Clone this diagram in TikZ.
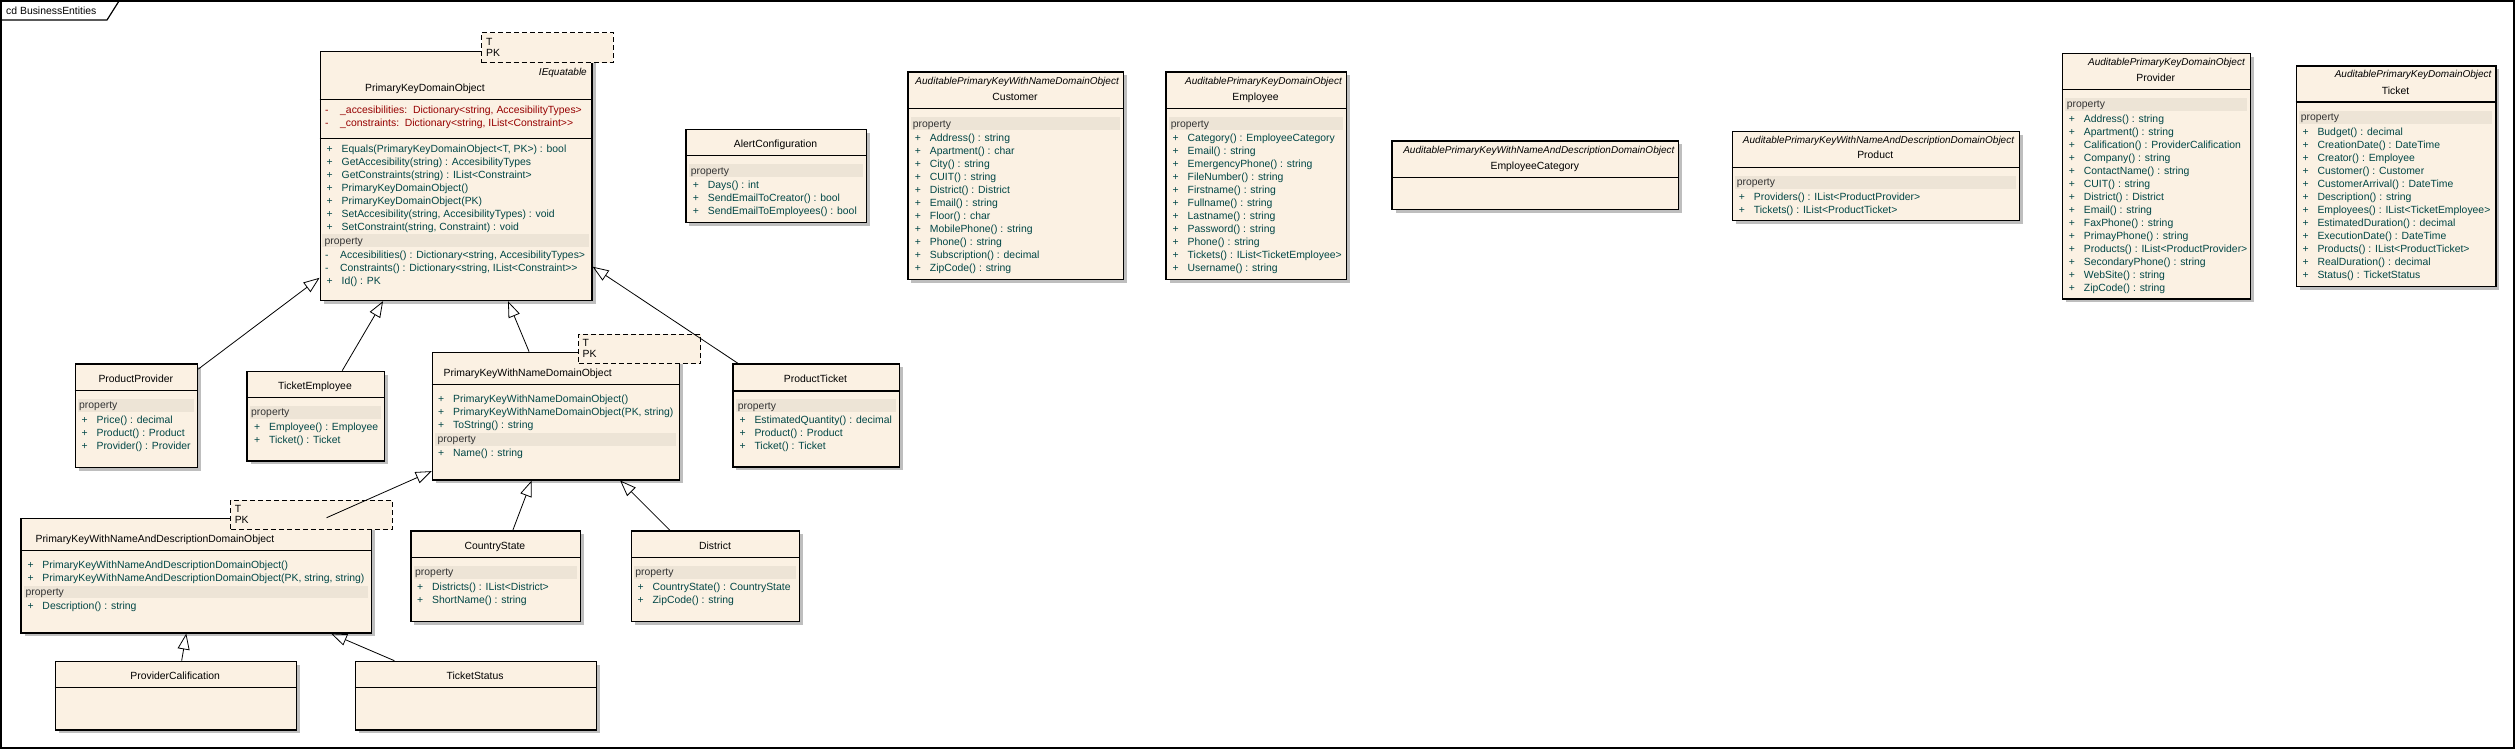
\documentclass[tikz,border=0pt]{standalone}
\usepackage{fontspec}
\setmainfont{Liberation Sans}
\usetikzlibrary{positioning}
\usetikzlibrary{arrows.meta}
\usetikzlibrary{shadows}

\definecolor{boxfill}{RGB}{251,241,227}
\definecolor{bandfill}{RGB}{237,228,214}
\definecolor{shadowgray}{RGB}{190,190,190}
\definecolor{memtext}{RGB}{0,70,70}
\definecolor{privtext}{RGB}{150,0,0}

\newcommand{\memfont}{\fontsize{10.4}{13}\selectfont}
\newcommand{\pub}{\makebox[15pt][l]{+}}
\newcommand{\priv}{\makebox[15pt][l]{-}}

\tikzset{classbox/.style={rectangle,draw=black,fill=boxfill,line width=1.2pt,
inner sep=0pt,anchor=north west,
drop shadow={shadow xshift=3.5pt,shadow yshift=-3.5pt,fill=shadowgray,opacity=1}}}
\tikzset{tmplbox/.style={rectangle,draw=black,fill=boxfill,line width=1pt,
inner sep=0pt,anchor=north west,dash pattern=on 5pt off 3pt}}
\tikzset{sepline/.style={line width=1.2pt}}
\tikzset{band/.style={fill=bandfill}}
\tikzset{member/.style={anchor=base west,inner sep=0pt,font=\memfont,text=memtext}}
\tikzset{privmember/.style={member,text=privtext}}
\tikzset{bandlabel/.style={anchor=base west,inner sep=0pt,font=\memfont,text=black!80}}
\tikzset{classname/.style={anchor=base,inner sep=0pt,font=\memfont,text=black}}
\tikzset{stereotype/.style={anchor=base east,inner sep=0pt,font=\fontsize{10}{13}\selectfont\itshape,text=black}}
\tikzset{generalize/.style={line width=0.8pt,-{Triangle[open,length=16pt,width=12pt]}}}

\begin{document}
\begin{tikzpicture}[x=1pt,y=-1pt]
\useasboundingbox (0,0) rectangle (2516,750);
\fill[white] (0,0) rectangle (2516,750);

% diagram frame
\draw[line width=1.3pt] (1,1) rectangle (2514,748);
\draw[line width=1.2pt] (1,20) -- (107,20) -- (119,1);
\node[anchor=base west,inner sep=0pt,font=\memfont] (framename) at (6,14.5) {cd BusinessEntities};

% PrimaryKeyDomainObject
\node[classbox,minimum width=271.8pt,minimum height=249.3pt] (pkdo) at (319.6,50.7) {};
\node[tmplbox,minimum width=131.7pt,minimum height=30pt] (pkdoparams) at (481,32) {};
\node[member,text=black] (pkdoT) at (486,45.4) {T};
\node[member,text=black] (pkdoPK) at (486,56.4) {PK};
\node[stereotype] (pkdoiface) at (587,75.4) {IEquatable};
\node[classname,anchor=base west] (pkdoname) at (365,91.4) {PrimaryKeyDomainObject};
\draw[sepline] (pkdo.west |- 0,99.3) -- (pkdo.east |- 0,99.3);
\foreach \t [count=\i from 0] in {{\_accesibilities:\ \ Dictionary<string, AccesibilityTypes>},{\_constraints:\ \ Dictionary<string, IList<Constraint>{}>}}
  \node[privmember] (pkdoattr\i) at (325,113.4+13*\i) {\priv\t};
\draw[sepline] (pkdo.west |- 0,138.3) -- (pkdo.east |- 0,138.3);
\foreach \t [count=\i from 0] in {{Equals(PrimaryKeyDomainObject<T, PK>) : bool},GetAccesibility(string) : AccesibilityTypes,GetConstraints(string) : IList<Constraint>,PrimaryKeyDomainObject(),PrimaryKeyDomainObject(PK),{SetAccesibility(string, AccesibilityTypes) : void},{SetConstraint(string, Constraint) : void}}
  \node[member] (pkdoop\i) at (326.5,152.4+13*\i) {\pub\t};
\fill[band] (322,234) rectangle (589,247);
\node[bandlabel] (pkdoband) at (324.5,244.1) {property};
\node[member] (pkdoprop0) at (325,258.4) {\priv Accesibilities() : Dictionary<string, AccesibilityTypes>};
\node[member] (pkdoprop1) at (325,271.4) {\priv Constraints() : Dictionary<string, IList<Constraint>{}>};
\node[member] (pkdoprop2) at (326.5,284.4) {\pub Id() : PK};

% ProductProvider
\node[classbox,minimum width=122.5pt,minimum height=103.4pt] (pprov) at (74.5,363.3) {};
\node[classname] (pprovname) at (135.8,382.1) {ProductProvider};
\draw[sepline] (pprov.west |- 0,390.7) -- (pprov.east |- 0,390.7);
\fill[band] (78,399) rectangle (194,412);
\node[bandlabel] (pprovband) at (79,408.9) {property};
\foreach \t [count=\i from 0] in {Price() : decimal,Product() : Product,Provider() : Provider}
  \node[member] (pprovp\i) at (81.4,423.4+13*\i) {\pub\t};

% TicketEmployee
\node[classbox,minimum width=137.1pt,minimum height=89.6pt] (tempe) at (246.4,370.7) {};
\node[classname] (tempename) at (315,389.4) {TicketEmployee};
\draw[sepline] (tempe.west |- 0,397.3) -- (tempe.east |- 0,397.3);
\fill[band] (249.5,406) rectangle (380.5,418.7);
\node[bandlabel] (tempeband) at (251,415.8) {property};
\foreach \t [count=\i from 0] in {Employee() : Employee,Ticket() : Ticket}
  \node[member] (tempep\i) at (254,430.4+13*\i) {\pub\t};

% PrimaryKeyWithNameDomainObject
\node[classbox,minimum width=247.3pt,minimum height=127.6pt] (pkwndo) at (431.7,351.7) {};
\node[tmplbox,minimum width=122pt,minimum height=29.3pt] (pkwndoparams) at (578.3,333.7) {};
\node[member,text=black] (pkwndoT) at (582.5,346.1) {T};
\node[member,text=black] (pkwndoPK) at (582.5,357.7) {PK};
\node[classname,anchor=base west] (pkwndoname) at (443.5,376.1) {PrimaryKeyWithNameDomainObject};
\draw[sepline] (pkwndo.west |- 0,384.3) -- (pkwndo.east |- 0,384.3);
\foreach \t [count=\i from 0] in {PrimaryKeyWithNameDomainObject(),{PrimaryKeyWithNameDomainObject(PK, string)},ToString() : string}
  \node[member] (pkwndoop\i) at (438,402.1+13*\i) {\pub\t};
\fill[band] (435,433) rectangle (676,445.5);
\node[bandlabel] (pkwndoband) at (437.5,442.4) {property};
\node[member] (pkwndoprop0) at (438,456.4) {\pub Name() : string};

% ProductTicket
\node[classbox,minimum width=166.4pt,minimum height=103pt] (ptick) at (732.3,363.3) {};
\node[classname] (ptickname) at (815.5,382.1) {ProductTicket};
\draw[sepline] (ptick.west |- 0,391) -- (ptick.east |- 0,391);
\fill[band] (735.5,399) rectangle (895.5,412);
\node[bandlabel] (ptickband) at (737.7,409) {property};
\foreach \t [count=\i from 0] in {EstimatedQuantity() : decimal,Product() : Product,Ticket() : Ticket}
  \node[member] (ptickp\i) at (739.3,423.1+13*\i) {\pub\t};

% PrimaryKeyWithNameAndDescriptionDomainObject
\node[classbox,minimum width=350.2pt,minimum height=114.6pt] (pkwnaddo) at (20.4,517.7) {};
\node[tmplbox,minimum width=161.2pt,minimum height=29.6pt] (pkwnaddoparams) at (230.3,499.7) {};
\node[member,text=black] (pkwnaddoT) at (234.6,512.1) {T};
\node[member,text=black] (pkwnaddoPK) at (234.6,523.7) {PK};
\node[classname,anchor=base west] (pkwnaddoname) at (35.4,542.1) {PrimaryKeyWithNameAndDescriptionDomainObject};
\draw[sepline] (pkwnaddo.west |- 0,550.3) -- (pkwnaddo.east |- 0,550.3);
\foreach \t [count=\i from 0] in {PrimaryKeyWithNameAndDescriptionDomainObject(),{PrimaryKeyWithNameAndDescriptionDomainObject(PK, string, string)}}
  \node[member] (pkwnaddoop\i) at (27.3,568.4+13*\i) {\pub\t};
\fill[band] (23.5,585.7) rectangle (367.5,597.7);
\node[bandlabel] (pkwnaddoband) at (25.5,595.1) {property};
\node[member] (pkwnaddoprop0) at (27.3,609.4) {\pub Description() : string};

% CountryState
\node[classbox,minimum width=169.2pt,minimum height=90.4pt] (cstate) at (410.3,530.3) {};
\node[classname] (cstatename) at (494.9,549.1) {CountryState};
\draw[sepline] (cstate.west |- 0,557.7) -- (cstate.east |- 0,557.7);
\fill[band] (413.5,566.3) rectangle (576.5,578.7);
\node[bandlabel] (cstateband) at (415,575.9) {property};
\foreach \t [count=\i from 0] in {Districts() : IList<District>,ShortName() : string}
  \node[member] (cstatep\i) at (417,590.1+13*\i) {\pub\t};

% District
\node[classbox,minimum width=168pt,minimum height=90.4pt] (district) at (631,530.3) {};
\node[classname] (districtname) at (715,549.1) {District};
\draw[sepline] (district.west |- 0,557.7) -- (district.east |- 0,557.7);
\fill[band] (634,566.3) rectangle (796,578.7);
\node[bandlabel] (districtband) at (635.2,575.9) {property};
\foreach \t [count=\i from 0] in {CountryState() : CountryState,ZipCode() : string}
  \node[member] (districtp\i) at (637.4,590.1+13*\i) {\pub\t};

% ProviderCalification
\node[classbox,minimum width=241.1pt,minimum height=68.6pt] (provcal) at (54.6,660.7) {};
\node[classname] (provcalname) at (175.2,679.1) {ProviderCalification};
\draw[sepline] (provcal.west |- 0,687.3) -- (provcal.east |- 0,687.3);

% TicketStatus
\node[classbox,minimum width=241pt,minimum height=68.6pt] (tstatus) at (354.6,660.7) {};
\node[classname] (tstatusname) at (475.1,679.1) {TicketStatus};
\draw[sepline] (tstatus.west |- 0,687.3) -- (tstatus.east |- 0,687.3);

% AlertConfiguration
\node[classbox,minimum width=180.4pt,minimum height=93pt] (alertcfg) at (685.3,128.7) {};
\node[classname] (alertcfgname) at (775.5,147.1) {AlertConfiguration};
\draw[sepline] (alertcfg.west |- 0,155.7) -- (alertcfg.east |- 0,155.7);
\fill[band] (688.5,164.3) rectangle (862.5,177);
\node[bandlabel] (alertcfgband) at (690.7,174.1) {property};
\foreach \t [count=\i from 0] in {Days() : int,SendEmailToCreator() : bool,SendEmailToEmployees() : bool}
  \node[member] (alertcfgp\i) at (692.7,188.1+13*\i) {\pub\t};

% Customer
\node[classbox,minimum width=215.4pt,minimum height=207.4pt] (customer) at (907.3,71.3) {};
\node[stereotype] (customerbase) at (1119,84.1) {AuditablePrimaryKeyWithNameDomainObject};
\node[classname] (customername) at (1015,100.1) {Customer};
\draw[sepline] (customer.west |- 0,108.7) -- (customer.east |- 0,108.7);
\fill[band] (910.5,117.3) rectangle (1119.5,130);
\node[bandlabel] (customerband) at (912.7,127.1) {property};
\foreach \t [count=\i from 0] in {Address() : string,Apartment() : char,City() : string,CUIT() : string,District() : District,Email() : string,Floor() : char,MobilePhone() : string,Phone() : string,Subscription() : decimal,ZipCode() : string}
  \node[member] (customerp\i) at (914.7,141.1+13*\i) {\pub\t};

% Employee
\node[classbox,minimum width=180.3pt,minimum height=207.4pt] (employee) at (1165.4,71.3) {};
\node[stereotype] (employeebase) at (1342,84.1) {AuditablePrimaryKeyDomainObject};
\node[classname] (employeename) at (1255.5,100.1) {Employee};
\draw[sepline] (employee.west |- 0,108.7) -- (employee.east |- 0,108.7);
\fill[band] (1168.5,117.3) rectangle (1342.5,130);
\node[bandlabel] (employeeband) at (1170.7,127.1) {property};
\foreach \t [count=\i from 0] in {Category() : EmployeeCategory,Email() : string,EmergencyPhone() : string,FileNumber() : string,Firstname() : string,Fullname() : string,Lastname() : string,Password() : string,Phone() : string,Tickets() : IList<TicketEmployee>,Username() : string}
  \node[member] (employeep\i) at (1172.5,141.1+13*\i) {\pub\t};

% EmployeeCategory
\node[classbox,minimum width=286.8pt,minimum height=68.7pt] (empcat) at (1391.4,140.3) {};
\node[stereotype] (empcatbase) at (1674.6,153.1) {AuditablePrimaryKeyWithNameAndDescriptionDomainObject};
\node[classname] (empcatname) at (1534.8,169.4) {EmployeeCategory};
\draw[sepline] (empcat.west |- 0,177.3) -- (empcat.east |- 0,177.3);

% Product
\node[classbox,minimum width=287pt,minimum height=89.3pt] (product) at (1731.7,130.7) {};
\node[stereotype] (productbase) at (2014.3,143.1) {AuditablePrimaryKeyWithNameAndDescriptionDomainObject};
\node[classname] (productname) at (1875.2,158.7) {Product};
\draw[sepline] (product.west |- 0,167.3) -- (product.east |- 0,167.3);
\fill[band] (1735,176) rectangle (2015.5,188.7);
\node[bandlabel] (productband) at (1736.7,185.7) {property};
\foreach \t [count=\i from 0] in {Providers() : IList<ProductProvider>,Tickets() : IList<ProductTicket>}
  \node[member] (productp\i) at (1738.7,200.1+13*\i) {\pub\t};

% Provider
\node[classbox,minimum width=188pt,minimum height=245.6pt] (provider) at (2061.7,52.7) {};
\node[stereotype] (providerbase) at (2245,65.4) {AuditablePrimaryKeyDomainObject};
\node[classname] (providername) at (2155.7,81.1) {Provider};
\draw[sepline] (provider.west |- 0,89.3) -- (provider.east |- 0,89.3);
\fill[band] (2065,98.3) rectangle (2246.5,110.7);
\node[bandlabel] (providerband) at (2066.7,107.9) {property};
\foreach \t [count=\i from 0] in {Address() : string,Apartment() : string,Calification() : ProviderCalification,Company() : string,ContactName() : string,CUIT() : string,District() : District,Email() : string,FaxPhone() : string,PrimayPhone() : string,Products() : IList<ProductProvider>,SecondaryPhone() : string,WebSite() : string,ZipCode() : string}
  \node[member] (providerp\i) at (2068.7,122.4+13*\i) {\pub\t};

% Ticket
\node[classbox,minimum width=199.6pt,minimum height=220.4pt] (ticket) at (2295.7,65.3) {};
\node[stereotype] (ticketbase) at (2491.7,77.7) {AuditablePrimaryKeyDomainObject};
\node[classname] (ticketname) at (2395.5,94.4) {Ticket};
\draw[sepline] (ticket.west |- 0,102) -- (ticket.east |- 0,102);
\fill[band] (2299,111.3) rectangle (2492,123.7);
\node[bandlabel] (ticketband) at (2300.7,120.9) {property};
\foreach \t [count=\i from 0] in {Budget() : decimal,CreationDate() : DateTime,Creator() : Employee,Customer() : Customer,CustomerArrival() : DateTime,Description() : string,Employees() : IList<TicketEmployee>,EstimatedDuration() : decimal,ExecutionDate() : DateTime,Products() : IList<ProductTicket>,RealDuration() : decimal,Status() : TicketStatus}
  \node[member] (ticketp\i) at (2302.3,135.1+13*\i) {\pub\t};

% generalizations
\draw[generalize] (pprov) -- (pkdo);
\draw[generalize] (tempe) -- (pkdo);
\draw[generalize] (pkwndo) -- (pkdo);
\draw[generalize] (ptick) -- (pkdo);
\draw[generalize] (pkwnaddo) -- (pkwndo);
\draw[generalize] (cstate) -- (pkwndo);
\draw[generalize] (district) -- (pkwndo);
\draw[generalize] (provcal) -- (pkwnaddo);
\draw[generalize] (tstatus) -- (pkwnaddo);
\end{tikzpicture}
\end{document}
